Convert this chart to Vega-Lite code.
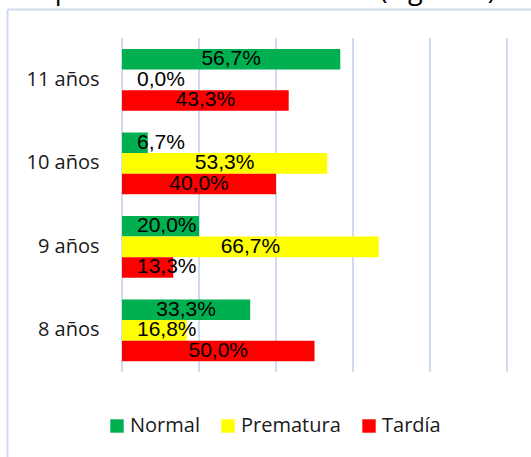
{
  "$schema": "https://vega.github.io/schema/vega-lite/v6.json",
  "width": 524,
  "height": 448,
  "autosize": {"type": "none"},
  "padding": {"left": 7, "top": 9, "right": 0, "bottom": 0},
  "background": "white",
  "title": {
    "text": "Tipo de maduración sexual (Figura 1)",
    "anchor": "start", "frame": "group", "dx": 26, "dy": 19, "offset": 2,
    "baseline": "alphabetic", "font": "Open Sans", "fontSize": 27, "fontWeight": "normal", "color": "#000000"
  },
  "config": {
    "view": {"stroke": null},
    "locale": {"number": {"decimal": ",", "thousands": ".", "grouping": [3], "currency": ["", " €"]}}
  },
  "layer": [
    {
      "data": {"values": [{"g": 0}, {"g": 0.2}, {"g": 0.4}, {"g": 0.6}, {"g": 0.8}, {"g": 1}]},
      "mark": {"type": "rule", "color": "#cfdcf0", "strokeWidth": 2},
      "encoding": {
        "x": {
          "field": "g", "type": "quantitative",
          "scale": {"domain": [-0.298701, 1.062338], "nice": false, "zero": false},
          "axis": {"orient": "top", "title": null, "labels": false, "ticks": false, "grid": false, "domain": true, "domainColor": "#cfdcf0", "domainWidth": 2}
        },
        "y": {
          "datum": 0, "type": "quantitative",
          "scale": {"domain": [-0.25449, 1.08683], "nice": false, "zero": false},
          "axis": {"orient": "left", "title": null, "labels": false, "ticks": false, "grid": false, "domain": true, "domainColor": "#cfdcf0", "domainWidth": 2}
        },
        "y2": {"datum": 1}
      }
    },
    {
      "data": {
        "values": [
          {"edad": "11 años", "tipo": "Normal", "v": 0.567},
          {"edad": "11 años", "tipo": "Prematura", "v": 0.0},
          {"edad": "11 años", "tipo": "Tardía", "v": 0.433},
          {"edad": "10 años", "tipo": "Normal", "v": 0.067},
          {"edad": "10 años", "tipo": "Prematura", "v": 0.533},
          {"edad": "10 años", "tipo": "Tardía", "v": 0.4},
          {"edad": "9 años", "tipo": "Normal", "v": 0.2},
          {"edad": "9 años", "tipo": "Prematura", "v": 0.667},
          {"edad": "9 años", "tipo": "Tardía", "v": 0.133},
          {"edad": "8 años", "tipo": "Normal", "v": 0.333},
          {"edad": "8 años", "tipo": "Prematura", "v": 0.168},
          {"edad": "8 años", "tipo": "Tardía", "v": 0.5}
        ]
      },
      "encoding": {
        "y": {
          "field": "edad", "type": "nominal",
          "sort": ["11 años", "10 años", "9 años", "8 años"],
          "scale": {"paddingInner": 0.26, "paddingOuter": 0.81263, "align": 0.29475},
          "axis": {"orient": "left", "title": null, "ticks": false, "domain": false, "offset": -92, "labelPadding": 0, "labelFont": "Open Sans", "labelFontSize": 20, "labelColor": "#1a1a1a"}
        },
        "yOffset": {
          "field": "tipo", "type": "nominal",
          "sort": ["Normal", "Prematura", "Tardía"],
          "scale": {"paddingInner": 0, "paddingOuter": 0}
        }
      },
      "layer": [
        {
          "mark": {"type": "bar"},
          "encoding": {
            "x": {"field": "v", "type": "quantitative", "scale": {"domain": [-0.298701, 1.062338], "nice": false, "zero": false}, "axis": null},
            "x2": {"datum": 0},
            "color": {
              "field": "tipo", "type": "nominal",
              "scale": {"domain": ["Normal", "Prematura", "Tardía"], "range": ["#00b050", "#ffff00", "#ff0000"]},
              "legend": {
                "title": null, "orient": "none", "direction": "horizontal",
                "legendX": 100, "legendY": 407,
                "symbolType": "square", "symbolSize": 180, "symbolStrokeWidth": 0,
                "labelFont": "Open Sans", "labelFontSize": 20, "labelColor": "#1a1a1a",
                "columnPadding": 18, "labelOffset": 3, "padding": 0
              }
            }
          }
        },
        {
          "transform": [{"filter": "datum.v >= 0.25"}],
          "mark": {"type": "text", "font": "Liberation Sans", "fontSize": 21, "baseline": "middle", "align": "center", "color": "#000000"},
          "encoding": {
            "x": {"field": "v", "type": "quantitative", "scale": {"domain": [-0.597402, 2.124675], "nice": false, "zero": false}, "axis": null},
            "text": {"field": "v", "type": "quantitative", "format": ".1%"}
          }
        },
        {
          "transform": [{"filter": "datum.v < 0.25"}],
          "mark": {"type": "text", "font": "Liberation Sans", "fontSize": 21, "baseline": "middle", "align": "left", "dx": 15, "color": "#000000"},
          "encoding": {
            "x": {"datum": 0, "type": "quantitative", "scale": {"domain": [-0.298701, 1.062338], "nice": false, "zero": false}, "axis": null},
            "text": {"field": "v", "type": "quantitative", "format": ".1%"}
          }
        }
      ],
      "resolve": {"scale": {"x": "independent"}}
    }
  ],
  "resolve": {"scale": {"x": "independent", "y": "independent"}, "axis": {"x": "independent", "y": "independent"}}
}
